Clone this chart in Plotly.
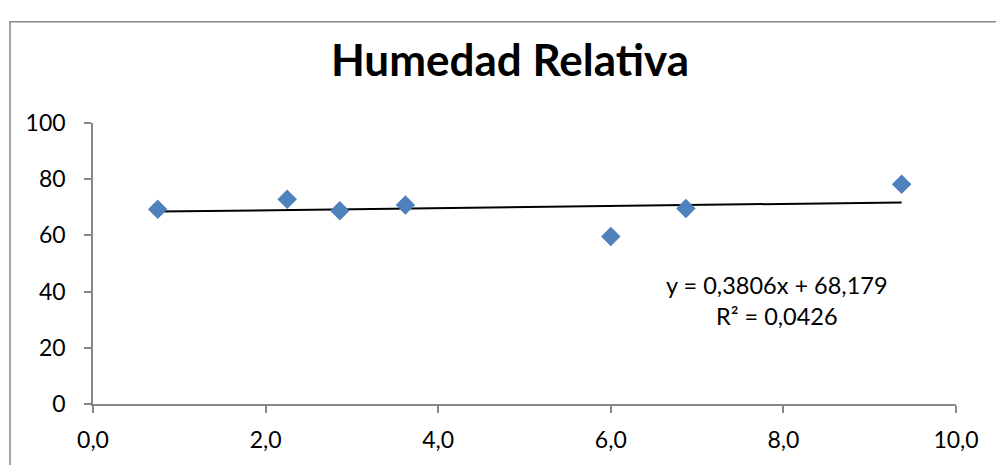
import plotly.graph_objects as go

# Relative humidity readings
x_vals = [0.75, 2.25, 2.86, 3.62, 6.00, 6.87, 9.37]
y_vals = [69.3, 72.9, 68.8, 70.8, 59.6, 69.6, 78.2]

# Linear trend (least squares) as reported
slope = 0.3806
intercept = 68.179
r2 = 0.0426

x_ticks = [0, 2, 4, 6, 8, 10]
x_tick_text = ["0,0", "2,0", "4,0", "6,0", "8,0", "10,0"]
y_ticks = [0, 20, 40, 60, 80, 100]

FONT = "Lato"
AXIS_GREY = "#878787"


def fmt(v, nd):
    return f"{v:.{nd}f}".replace(".", ",")


trend_x = [min(x_vals), max(x_vals)]
trend_y = [slope * v + intercept for v in trend_x]

fig = go.Figure()

fig.add_trace(go.Scatter(
    x=trend_x, y=trend_y, mode="lines",
    line=dict(color="black", width=2),
    hoverinfo="skip", showlegend=False,
))

fig.add_trace(go.Scatter(
    x=x_vals, y=y_vals, mode="markers",
    marker=dict(symbol="diamond", size=15, color="#4F81BD",
                line=dict(width=0)),
    showlegend=False,
))

eq_text = f"y = {fmt(slope, 4)}x + {fmt(intercept, 3)}<br>R² = {fmt(r2, 4)}"
fig.add_annotation(
    x=7.93, y=37.0, xref="x", yref="y",
    text=eq_text, showarrow=False,
    font=dict(family=FONT, size=23.5, color="black"),
    align="center",
)

# Outer chart frame
fig.add_shape(
    type="rect", xref="paper", yref="paper",
    x0=-0.0962, y0=-0.6, x1=1.2, y1=1.3604,
    line=dict(color=AXIS_GREY, width=1.5), fillcolor="rgba(0,0,0,0)",
    layer="below",
)

fig.update_layout(
    width=996, height=465,
    margin=dict(l=93, r=40, t=123, b=59),
    paper_bgcolor="white", plot_bgcolor="white",
    title=dict(
        text="<b>Humedad Relativa</b>",
        x=510 / 996, xanchor="center",
        y=1 - 61 / 465, yanchor="middle",
        font=dict(family=FONT, size=44, color="black"),
    ),
    font=dict(family=FONT, size=23, color="black"),
)

fig.update_xaxes(
    range=[0, 10], tickvals=x_ticks, ticktext=x_tick_text,
    showgrid=False, zeroline=False, showline=True,
    linecolor=AXIS_GREY, linewidth=1.5,
    ticks="outside", ticklen=7, tickwidth=1.5, tickcolor=AXIS_GREY,
    tickfont=dict(family=FONT, size=23, color="black"),
    ticklabelstandoff=8,
)
fig.update_yaxes(
    range=[0, 100], tickvals=y_ticks,
    showgrid=False, zeroline=False, showline=True,
    linecolor=AXIS_GREY, linewidth=1.5,
    ticks="outside", ticklen=7, tickwidth=1.5, tickcolor=AXIS_GREY,
    tickfont=dict(family=FONT, size=23, color="black"),
    ticklabelstandoff=14,
)

fig.write_html("out.html")
